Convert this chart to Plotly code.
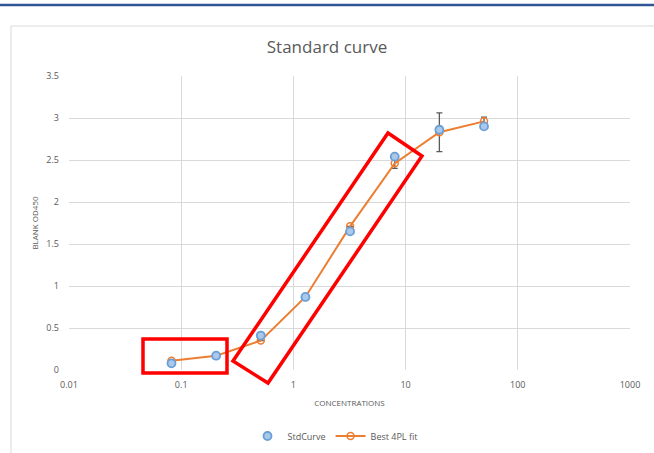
import plotly.graph_objects as go

# ---- data ----
concentrations = [0.08192, 0.2048, 0.512, 1.28, 3.2, 8, 20, 50]
std_curve = [0.08, 0.17, 0.41, 0.87, 1.65, 2.54, 2.86, 2.90]
fit_4pl = [0.11, 0.17, 0.35, 0.87, 1.71, 2.46, 2.83, 2.96]
fit_err = [0, 0, 0, 0, 0, 0.06, 0.23, 0.05]
x_ticks = [0.01, 0.1, 1, 10, 100, 1000]
x_tick_labels = ["0.01", "0.1", "1", "10", "100", "1000"]
y_ticks = [0, 0.5, 1, 1.5, 2, 2.5, 3, 3.5]

W, H = 654, 453
L, R, T, B = 69, 24, 76, 83
PW, PH = W - L - R, H - T - B


def px(x):
    return (x - L) / PW


def py(y):
    return (H - B - y) / PH


fig = go.Figure()

fig.add_trace(go.Scatter(
    x=concentrations, y=fit_4pl, name="Best 4PL fit", mode="lines+markers",
    line=dict(color="#ed7d31", width=2),
    marker=dict(symbol="circle-open", size=7, color="#ed7d31", line=dict(width=1.5)),
    error_y=dict(type="data", array=fit_err, visible=True, color="#595959", thickness=1.3, width=3),
    legendrank=2,
))
fig.add_trace(go.Scatter(
    x=concentrations, y=std_curve, name="StdCurve", mode="markers",
    marker=dict(symbol="circle", size=8, color="#a9c8ea", line=dict(color="#6a9fd6", width=1.8)),
    legendrank=1,
))

shapes = []
# chart-area border and top blue line
shapes.append(dict(type="rect", xref="paper", yref="paper",
                   x0=px(11), x1=px(660), y0=py(460), y1=py(26),
                   line=dict(color="#d9d9d9", width=1), layer="below"))
shapes.append(dict(type="line", xref="paper", yref="paper",
                   x0=px(0), x1=px(654), y0=py(5), y1=py(5),
                   line=dict(color="#2f5597", width=2.5)))
# red highlight boxes
shapes.append(dict(type="rect", xref="paper", yref="paper",
                   x0=px(143), x1=px(227), y0=py(373), y1=py(339),
                   line=dict(color="#ff0000", width=3.5)))
corners = [(233, 361), (388, 133), (422, 156), (268, 383)]
path = "M " + " L ".join(f"{px(a):.4f},{py(b):.4f}" for a, b in corners) + " Z"
shapes.append(dict(type="path", xref="paper", yref="paper", path=path,
                   line=dict(color="#ff0000", width=3.5)))

font_family = "Open Sans, Liberation Sans, sans-serif"
fig.update_layout(
    width=W, height=H,
    margin=dict(l=L, r=R, t=T, b=B, autoexpand=False),
    paper_bgcolor="white", plot_bgcolor="white",
    font=dict(family=font_family, color="#595959", size=9),
    title=dict(text="Standard curve", x=0.5, xref="container", xanchor="center",
               y=1 - 47 / H, yanchor="middle", font=dict(size=17, color="#595959")),
    showlegend=True,
    legend=dict(orientation="h", x=px(335), xanchor="center", y=py(436), yanchor="middle",
                font=dict(size=9, color="#595959"), itemwidth=30),
    shapes=shapes,
)
fig.update_xaxes(type="log", range=[-2, 3], tickvals=x_ticks, ticktext=x_tick_labels,
                 showgrid=True, gridcolor="#d9d9d9", gridwidth=1, zeroline=False,
                 showline=False, ticks="", tickfont=dict(size=9, color="#595959"),
                 ticklabelstandoff=8, automargin=False,
                 title=dict(text="CONCENTRATIONS", font=dict(size=8, color="#595959"), standoff=10))
fig.update_yaxes(range=[0, 3.5], tickvals=y_ticks,
                 showgrid=True, gridcolor="#d9d9d9", gridwidth=1, zeroline=False,
                 showline=False, ticks="", tickfont=dict(size=9, color="#595959"),
                 ticklabelstandoff=9, automargin=False,
                 title=dict(text="BLANK OD450", font=dict(size=8, color="#595959"), standoff=6))

fig.write_html("out.html", config={"displayModeBar": False},
               post_script="document.body.style.margin='0';")
